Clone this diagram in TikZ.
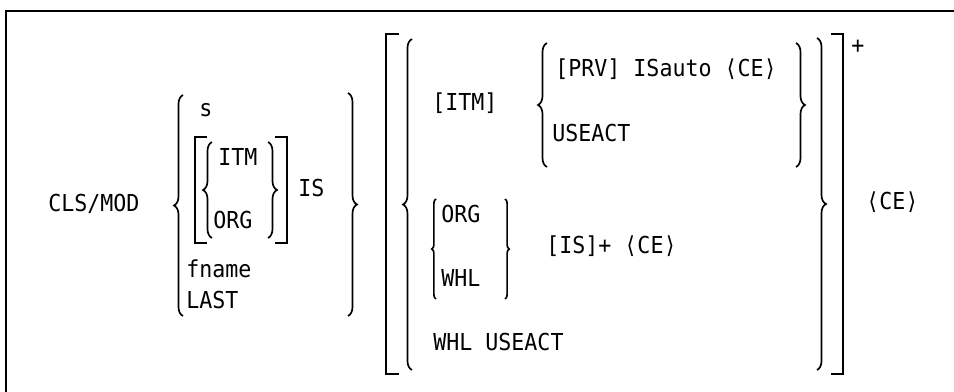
\documentclass[tikz,border=0pt]{standalone}
\usepackage{fontspec}
\newfontfamily\synfont[FakeStretch=0.927]{DejaVu Sans Mono}
\usetikzlibrary{decorations.pathreplacing}

\begin{document}
\begin{tikzpicture}[
    x=0.025cm,
    y=-0.025cm,
    word/.style={
        anchor=base west,
        inner sep=0pt,
        font=\synfont\fontsize{16.6pt}{20pt}\selectfont
    },
    curly/.style={
        decorate,
        decoration={brace, amplitude=#1},
        line width=1.2pt
    },
    curly/.default=6.4pt,
    bracket/.style={
        line width=1.4pt
    }
]

    \useasboundingbox (0,0) rectangle (954,392);

    % Frame
    \draw[bracket] (6,392) -- (6,11) -- (954,11);

    % Command and first group
    \node[word] (clsmod) at (48,212) {CLS/MOD};
    \node[word] (sopt) at (199,117) {s};
    \node[word] (itm) at (218,166) {ITM};
    \node[word] (org) at (213,229) {ORG};
    \node[word] (is) at (298,197) {IS};
    \node[word] (fname) at (186,278) {fname};
    \node[word] (last) at (186,309) {LAST};

    % Second group
    \node[word] (itmopt) at (432,111) {[ITM]};
    \node[word] (prv) at (555,77) {[PRV] ISauto ⟨CE⟩};
    \node[word] (useact) at (552,142) {USEACT};
    \node[word] (orgb) at (441,223) {ORG};
    \node[word] (whl) at (441,287) {WHL};
    \node[word] (isplus) at (546,254) {[IS]+ ⟨CE⟩};
    \node[word] (whluse) at (433,351) {WHL USEACT};

    % End
    \node[word, anchor=center] (plus) at (858,47) {+};
    \node[word] (ce) at (866,210) {⟨CE⟩};

    % Left braces (drawn bottom to top)
    \foreach \x/\ya/\yb in {183/316/95, 212/238/142, 412/370/39, 547/167/43}
        \draw[curly] (\x,\ya) -- (\x,\yb);
    \draw[curly=3pt] (436,299) -- (436,199);

    % Right braces (drawn top to bottom)
    \foreach \x/\ya/\yb in {268/142/238, 348/93/316, 796/43/167, 817/38/370}
        \draw[curly] (\x,\ya) -- (\x,\yb);
    \draw[curly=3pt] (505,199) -- (505,299);

    % Brackets
    \draw[bracket] (207,137) -- (195,137) -- (195,243) -- (207,243);
    \draw[bracket] (275,137) -- (287,137) -- (287,243) -- (275,243);
    \draw[bracket] (399,34) -- (386,34) -- (386,374) -- (399,374);
    \draw[bracket] (831,34) -- (843,34) -- (843,374) -- (831,374);

\end{tikzpicture}
\end{document}
